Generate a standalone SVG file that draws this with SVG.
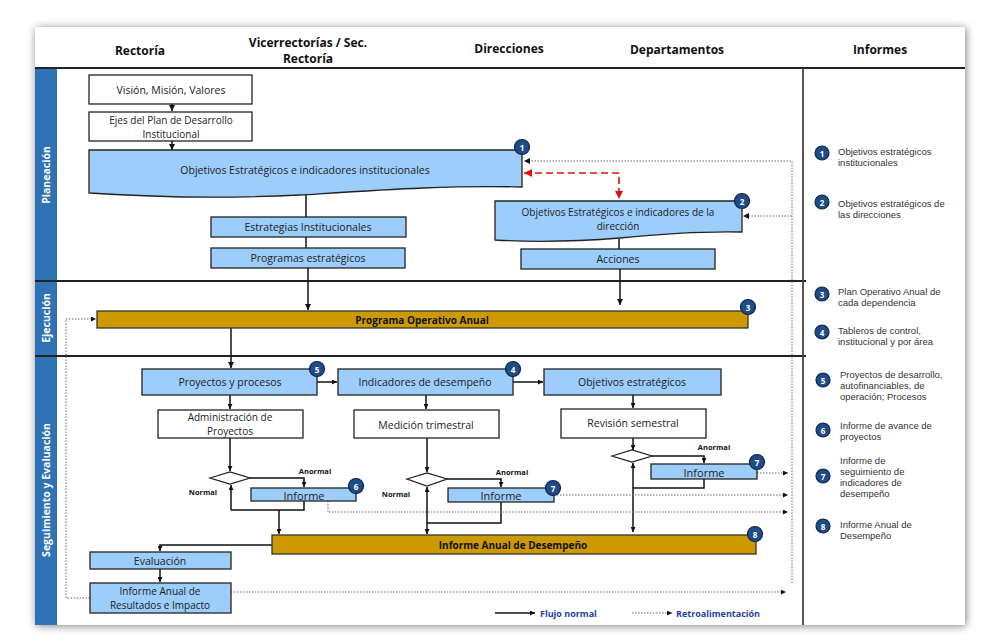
<svg xmlns="http://www.w3.org/2000/svg" width="982" height="644" viewBox="0 0 982 644">
<defs>
<filter id="sh" x="-5%" y="-5%" width="110%" height="110%">
<feDropShadow dx="1" dy="1" stdDeviation="4" flood-color="#000" flood-opacity="0.5"/>
</filter>
<marker id="ah" viewBox="0 0 6 6" refX="6" refY="3" markerWidth="6" markerHeight="6" markerUnits="userSpaceOnUse" orient="auto"><path d="M0,0 L6,3 L0,6 z" fill="#111"/></marker>
<marker id="ahs" viewBox="0 0 6 6" refX="6" refY="3" markerWidth="5" markerHeight="5" markerUnits="userSpaceOnUse" orient="auto-start-reverse"><path d="M0,0 L6,3 L0,6 z" fill="#111"/></marker>
<marker id="ar" viewBox="0 0 6 6" refX="6" refY="3" markerWidth="8" markerHeight="8" markerUnits="userSpaceOnUse" orient="auto-start-reverse"><path d="M0,0 L6,3 L0,6 z" fill="#e01010"/></marker>
<style>
text{font-family:"Open Sans","Noto Sans","Liberation Sans",sans-serif;fill:#222;dominant-baseline:central;text-anchor:middle}
.hd{font-size:12px;font-weight:bold;fill:#111}
.ln{font-size:10.5px;font-weight:bold;fill:#fff}
.t{font-size:10.5px}
.t2{font-size:10px}
.t10{font-size:10.5px}
.ti{font-size:11px}
.b{font-size:10px;font-weight:bold;fill:#111}
.sm{font-size:7.5px;font-weight:bold;fill:#111}
.inf{font-family:"Liberation Sans",Arial,sans-serif;font-size:9.5px;text-anchor:start;fill:#333}
.lg{font-size:9px;font-weight:bold;fill:#1f3fa8;text-anchor:start}
.w{fill:#fff;stroke:#222;stroke-width:1.3}
.bl{fill:#9dcdfa;stroke:#222;stroke-width:1.3}
.gd{fill:#cc9a00;stroke:#333;stroke-width:1.3}
.bd circle{fill:#1f4c86;stroke:#0d2448;stroke-width:1.2}
.bd text{font-size:8px;font-weight:bold;fill:#fff}
.fl{fill:none;stroke:#111;stroke-width:1.5}
.dt{fill:none;stroke:#666;stroke-width:1;stroke-dasharray:1.5 1.5}
.rd{fill:none;stroke:#e01010;stroke-width:1.6;stroke-dasharray:7 4}
.sep{stroke:#222;stroke-width:2}
</style>
</defs>
<rect x="0" y="0" width="982" height="644" fill="#fff"/>
<rect x="35" y="27" width="930" height="598" fill="#fff" filter="url(#sh)"/>

<!-- frame -->
<g id="frame">
<rect x="35" y="68" width="22" height="557" fill="#2f72b5"/>
<line x1="35" y1="68" x2="965" y2="68" class="sep"/>
<line x1="35" y1="281" x2="806" y2="281" class="sep"/>
<line x1="35" y1="356" x2="806" y2="356" class="sep"/>
<line x1="803" y1="68" x2="803" y2="625" stroke="#444" stroke-width="1.8"/>
<text class="hd" x="140" y="50">Rectoría</text>
<text class="hd" x="308" y="42">Vicerrectorías / Sec.</text>
<text class="hd" x="308" y="58.5">Rectoría</text>
<text class="hd" x="509" y="48">Direcciones</text>
<text class="hd" x="677" y="49">Departamentos</text>
<text class="hd" x="880" y="49">Informes</text>
<text class="ln" transform="translate(46,175) rotate(-90)">Planeación</text>
<text class="ln" transform="translate(46,318) rotate(-90)">Ejecución</text>
<text class="ln" transform="translate(46,490) rotate(-90)">Seguimiento y Evaluación</text>
</g>

<!-- connectors -->
<g id="connectors">
<path class="fl" d="M172,104 V111" marker-end="url(#ah)"/>
<path class="fl" d="M172,141 V150" marker-end="url(#ah)"/>
<path class="fl" d="M306,194 V217"/>
<path class="fl" d="M306,237 V248"/>
<path class="fl" d="M308,268 V310" marker-end="url(#ah)"/>
<path class="fl" d="M619,239 V249"/>
<path class="fl" d="M620,269 V305" marker-end="url(#ah)"/>
<path class="rd" d="M524,173 H619 V199" marker-start="url(#ar)" marker-end="url(#ar)"/>
<path class="fl" d="M231,328 V368" marker-end="url(#ah)"/>
<path class="fl" d="M317,382 H337" marker-end="url(#ahs)"/>
<path class="fl" d="M513,382 H543" marker-end="url(#ahs)"/>
<path class="fl" d="M230,395 V409" marker-end="url(#ahs)"/>
<path class="fl" d="M426,395 V409" marker-end="url(#ahs)"/>
<path class="fl" d="M633,395 V408" marker-end="url(#ahs)"/>
<!-- decision 1 -->
<path class="fl" d="M230,438 V471" marker-end="url(#ahs)"/>
<path class="fl" d="M250,478 H304 V487" marker-end="url(#ahs)"/>
<path class="fl" d="M231,510 V485" marker-end="url(#ahs)"/>
<path class="fl" d="M231,510 H304 V501"/>
<path class="fl" d="M279,510 V534" marker-end="url(#ahs)"/>
<!-- decision 2 -->
<path class="fl" d="M427,438 V472" marker-end="url(#ahs)"/>
<path class="fl" d="M447,479 H501 V487" marker-end="url(#ahs)"/>
<path class="fl" d="M427,510 V487" marker-end="url(#ahs)"/>
<path class="fl" d="M427,510 V534" marker-end="url(#ahs)"/>
<path class="fl" d="M427,523 H501 V502"/>
<!-- decision 3 -->
<path class="fl" d="M633,438 V450" marker-end="url(#ahs)"/>
<path class="fl" d="M652,456 H704 V463" marker-end="url(#ahs)"/>
<path class="fl" d="M633,500 V463" marker-end="url(#ahs)"/>
<path class="fl" d="M633,500 V532" marker-end="url(#ahs)"/>
<path class="fl" d="M633,488 H704 V479"/>
<!-- bottom -->
<path class="fl" d="M272,545 H160 V551" marker-end="url(#ahs)"/>
<path class="fl" d="M160,569 V582" marker-end="url(#ahs)"/>
<!-- feedback dotted -->
<path class="dt" d="M792,583 V161 H525"/>
<path d="M524,161 l6,-3 v6 z" fill="#111"/>
<path class="dt" d="M792,216 H744"/>
<path d="M743,216 l6,-3 v6 z" fill="#111"/>
<path class="dt" d="M231,592 H786" marker-end="url(#ahs)"/>
<path class="dt" d="M90,598 H66 V319 H96" marker-end="url(#ahs)"/>
<path class="dt" d="M328,501 V512 H788" marker-end="url(#ahs)"/>
<path class="dt" d="M554,495 H788" marker-end="url(#ahs)"/>
<path class="dt" d="M757,473 H788" marker-end="url(#ahs)"/>
</g>

<!-- nodes -->
<g id="n-vision"><rect class="w" x="89" y="75" width="163" height="29"/><text class="t" x="171" y="90">Visión, Misión, Valores</text></g>
<g id="n-ejes"><rect class="w" x="89" y="112" width="163" height="29"/><text class="t2" x="171" y="119.5">Ejes del Plan de Desarrollo</text><text class="t2" x="171" y="133.5">Institucional</text></g>
<g id="n-obj-inst"><path class="bl" d="M89,150 H522 V187 C450,185 380,190 300,195 C220,199 150,197 89,193 Z"/><text class="t" x="305" y="170">Objetivos Estratégicos e indicadores institucionales</text></g>
<g id="n-estr"><rect class="bl" x="211" y="217" width="195" height="20"/><text class="t" x="308" y="227">Estrategias Institucionales</text></g>
<g id="n-prog"><rect class="bl" x="211" y="248" width="194" height="20"/><text class="t" x="308" y="258">Programas estratégicos</text></g>
<g id="n-obj-dir"><path class="bl" d="M495,201 H742 V232 C700,231 660,234 620,238 C570,242 530,242 495,240 Z"/><text class="t2" x="618" y="212">Objetivos Estratégicos e indicadores de la</text><text class="t2" x="618" y="226">dirección</text></g>
<g id="n-acc"><rect class="bl" x="521" y="249" width="194" height="20"/><text class="t" x="618" y="259">Acciones</text></g>
<g id="n-poa"><rect class="gd" x="97" y="311" width="651" height="17"/><text class="b" x="422" y="320">Programa Operativo Anual</text></g>
<g id="n-proy"><rect class="bl" x="142" y="369" width="175" height="26"/><text class="t10" x="230" y="382">Proyectos y procesos</text></g>
<g id="n-ind"><rect class="bl" x="338" y="369" width="175" height="26"/><text class="t10" x="425" y="382">Indicadores de desempeño</text></g>
<g id="n-objest"><rect class="bl" x="544" y="369" width="177" height="26"/><text class="t10" x="632" y="382">Objetivos estratégicos</text></g>
<g id="n-adm"><rect class="w" x="158" y="410" width="145" height="28"/><text class="t2" x="230" y="417">Administración de</text><text class="t2" x="230" y="431">Proyectos</text></g>
<g id="n-med"><rect class="w" x="354" y="410" width="145" height="28"/><text class="t10" x="426" y="425">Medición trimestral</text></g>
<g id="n-rev"><rect class="w" x="561" y="409" width="145" height="29"/><text class="t10" x="633" y="423">Revisión semestral</text></g>
<g id="n-d1"><path class="w" d="M210,478 L230,472 L250,478 L230,484 Z"/></g>
<g id="n-d2"><path class="w" d="M407,479 L427,473 L447,479 L427,486 Z"/></g>
<g id="n-d3"><path class="w" d="M612,456 L632,450 L652,456 L632,462 Z"/></g>
<g id="n-inf6"><rect class="bl" x="251" y="488" width="105" height="13"/><text class="ti" x="304" y="495">Informe</text></g>
<g id="n-inf7a"><rect class="bl" x="448" y="488" width="106" height="14"/><text class="ti" x="501" y="495">Informe</text></g>
<g id="n-inf7b"><rect class="bl" x="651" y="464" width="106" height="15"/><text class="ti" x="704" y="472">Informe</text></g>
<g id="labels">
<text class="sm" x="315" y="471">Anormal</text><text class="sm" x="203" y="492">Normal</text>
<text class="sm" x="512" y="472">Anormal</text><text class="sm" x="396" y="494">Normal</text>
<text class="sm" x="714" y="447">Anormal</text>
</g>
<g id="n-iad"><rect class="gd" x="272" y="535" width="484" height="19"/><text class="b" x="513" y="545">Informe Anual de Desempeño</text></g>
<g id="n-eval"><rect class="bl" x="90" y="552" width="141" height="17"/><text class="t" x="160" y="561">Evaluación</text></g>
<g id="n-iari"><rect class="bl" x="90" y="583" width="141" height="30"/><text class="t2" x="160" y="591">Informe Anual de</text><text class="t2" x="160" y="605">Resultados e Impacto</text></g>

<!-- badges on nodes -->
<g class="bd" id="badges">
<g><circle cx="522" cy="147" r="7.5"/><text x="522" y="147">1</text></g>
<g><circle cx="742" cy="201" r="7.5"/><text x="742" y="201">2</text></g>
<g><circle cx="748" cy="307" r="7.5"/><text x="748" y="307">3</text></g>
<g><circle cx="513" cy="369" r="7.5"/><text x="513" y="369">4</text></g>
<g><circle cx="317" cy="369" r="7.5"/><text x="317" y="369">5</text></g>
<g><circle cx="356" cy="486" r="7.5"/><text x="356" y="486">6</text></g>
<g><circle cx="553" cy="488" r="7.5"/><text x="553" y="488">7</text></g>
<g><circle cx="757" cy="462" r="7.5"/><text x="757" y="462">7</text></g>
<g><circle cx="755" cy="534" r="7.5"/><text x="755" y="534">8</text></g>
</g>

<!-- informes column -->
<g id="informes">
<g class="bd"><circle cx="822" cy="153" r="7"/><text x="822" y="153">1</text></g>
<text class="inf" x="838" y="151">Objetivos estratégicos</text><text class="inf" x="838" y="162">institucionales</text>
<g class="bd"><circle cx="822" cy="202" r="7"/><text x="822" y="202">2</text></g>
<text class="inf" x="838" y="203">Objetivos estratégicos de</text><text class="inf" x="838" y="214">las direcciones</text>
<g class="bd"><circle cx="822" cy="294" r="7"/><text x="822" y="294">3</text></g>
<text class="inf" x="838" y="291">Plan Operativo Anual de</text><text class="inf" x="838" y="302">cada dependencia</text>
<g class="bd"><circle cx="822" cy="332" r="7"/><text x="822" y="332">4</text></g>
<text class="inf" x="838" y="330">Tableros de control,</text><text class="inf" x="838" y="341">institucional y por área</text>
<g class="bd"><circle cx="823" cy="380" r="7"/><text x="823" y="380">5</text></g>
<text class="inf" x="840" y="374">Proyectos de desarrollo,</text><text class="inf" x="840" y="385">autofinanciables, de</text><text class="inf" x="840" y="396">operación; Procesos</text>
<g class="bd"><circle cx="823" cy="430" r="7"/><text x="823" y="430">6</text></g>
<text class="inf" x="840" y="425">Informe de avance de</text><text class="inf" x="840" y="436">proyectos</text>
<g class="bd"><circle cx="823" cy="476" r="7"/><text x="823" y="476">7</text></g>
<text class="inf" x="840" y="460">Informe de</text><text class="inf" x="840" y="471">seguimiento de</text><text class="inf" x="840" y="482">indicadores de</text><text class="inf" x="840" y="493">desempeño</text>
<g class="bd"><circle cx="823" cy="526" r="7"/><text x="823" y="526">8</text></g>
<text class="inf" x="840" y="524">Informe Anual de</text><text class="inf" x="840" y="535">Desempeño</text>
</g>

<!-- legend -->
<g id="legend">
<path class="fl" d="M495,613 H535" marker-end="url(#ahs)"/>
<text class="lg" x="540" y="613">Flujo normal</text>
<path class="dt" d="M632,613 H672" marker-end="url(#ahs)"/>
<text class="lg" x="676" y="613">Retroalimentación</text>
</g>
</svg>
